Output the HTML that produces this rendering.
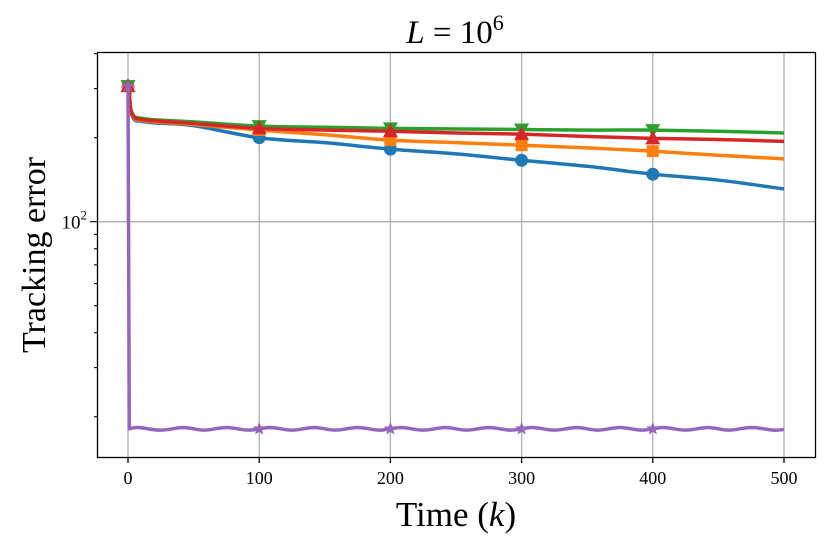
<!DOCTYPE html>
<html><head><meta charset="utf-8"><style>
body{margin:0;background:#fff}
svg text{font-family:"Liberation Serif","DejaVu Serif",serif;fill:#000}
</style></head><body>
<svg id="chart" width="830" height="549" viewBox="0 0 830 549" xmlns="http://www.w3.org/2000/svg">
<rect x="0" y="0" width="830" height="549" fill="#fff"/>
<g id="grid"></g>
<g id="series"></g>
<rect x="97.5" y="52.5" width="718" height="405" fill="none" stroke="#000" stroke-width="1.3"/>
<g id="ticks"></g>
<text x="455" y="43" font-size="33" text-anchor="middle"><tspan font-style="italic">L</tspan> = 10<tspan font-size="22" dy="-13">6</tspan></text>
<text x="456" y="526" font-size="35" text-anchor="middle">Time (<tspan font-style="italic">k</tspan>)</text>
<text transform="translate(45,255) rotate(-90)" font-size="34" text-anchor="middle">Tracking error</text>
</svg>
<script>
const xTicks=[0,100,200,300,400,500];
const ks=[0,1,2,5,10,20,50,100,150,200,250,300,350,400,450,500];
const blueVals=[306,300,250,232,229,226,221,200,192,182,175,166,158,148,141,131];
const orangeVals=[306,300,252,234,231,228,223,213,205,196,192,188,184,179,173,168];
const redVals=[306,300,254,236,233,230,225,216,213,211,208,206,202,199,197,194];
const greenVals=[306,300,256,238,235,232,228,220,218,216,215,214,213,213,211,208];
const purpleKs=[0,1,8,25,42,58,75,92,108,125,142,158,175,192,208,225,242,258,275,292,308,325,342,358,375,392,408,425,442,458,475,492,500];
const purpleVals=[306,18.1,18.3,17.9,18.3,17.9,18.3,17.9,18.3,17.9,18.3,17.9,18.3,17.9,18.3,17.9,18.3,17.9,18.3,17.9,18.3,17.9,18.3,17.9,18.3,17.9,18.3,17.9,18.3,17.9,18.3,17.9,18.0];
const markerKs=[0,100,200,300,400];
const NS="http://www.w3.org/2000/svg";
function X(k){return 128+k*1.312;}
function Y(v){return 221.7-279*(Math.log10(v)-2);}
function el(t,a,p){const e=document.createElementNS(NS,t);for(const k in a)e.setAttribute(k,a[k]);p.appendChild(e);return e;}
const grid=document.getElementById('grid'),ticks=document.getElementById('ticks'),ser=document.getElementById('series');
xTicks.forEach(t=>{
 const g=el('line',{x1:X(t),x2:X(t),y1:52,y2:457,stroke:'#b0b0b0','stroke-width':1.3},grid);
 
 
 const tk=el('line',{x1:X(t),x2:X(t),y1:457,y2:463,stroke:'#000','stroke-width':1.3},ticks);
 
 
 const tx=el('text',{x:X(t),y:484,'font-size':18,'text-anchor':'middle'},ticks);
 tx.textContent=t;
 
 
});
const gy=el('line',{x1:97,x2:815,y1:Y(100),y2:Y(100),stroke:'#b0b0b0','stroke-width':1.3},grid);


[20,30,40,50,60,70,80,90,100,200,300,400].forEach(v=>{
 const major=v===100;
 const t=el('line',{x1:major?90:94,x2:97,y1:Y(v),y2:Y(v),stroke:'#000','stroke-width':1.1},ticks);
 
 
});
const yl=el('text',{x:87,y:Y(100)+7,'font-size':19,'text-anchor':'end'},ticks);
yl.innerHTML='10<tspan font-size="13" dy="-9">2</tspan>';


function interp(kk,vv,k){for(let i=0;i<kk.length-1;i++){if(k>=kk[i]&&k<=kk[i+1]){const f=(k-kk[i])/(kk[i+1]-kk[i]);return Math.pow(10,Math.log10(vv[i])*(1-f)+Math.log10(vv[i+1])*f);}}return vv[vv.length-1];}
function smoothPath(kk,vv){
 const p=kk.map((k,i)=>[X(k),Y(vv[i])]);let d='M'+p[0][0]+','+p[0][1]+' L'+p[1][0]+','+p[1][1];
 for(let i=1;i<p.length-1;i++){const p0=p[i-1],p1=p[i],p2=p[i+1],p3=p[i+2]||p2;
  const s=i===1?0:1/6;
  d+=` C${p1[0]+(p2[0]-p0[0])*s},${p1[1]+(p2[1]-p0[1])*s} ${p2[0]-(p3[0]-p1[0])/6},${p2[1]-(p3[1]-p1[1])/6} ${p2[0]},${p2[1]}`;}
 return d;}
function marker(type,x,y,c,p){
 let m;
 if(type==='circle')m=el('circle',{cx:x,cy:y,r:6.5,fill:c},p);
 else if(type==='square')m=el('rect',{x:x-6,y:y-6,width:12,height:12,fill:c},p);
 else if(type==='tri-up')m=el('polygon',{points:`${x},${y-8} ${x-7.5},${y+6} ${x+7.5},${y+6}`,fill:c},p);
 else if(type==='tri-down')m=el('polygon',{points:`${x},${y+8} ${x-7.5},${y-6} ${x+7.5},${y-6}`,fill:c},p);
 else{let pts=[];for(let i=0;i<10;i++){const r=i%2?3:7,a=-Math.PI/2+i*Math.PI/5;pts.push((x+r*Math.cos(a))+','+(y+r*Math.sin(a)));}m=el('polygon',{points:pts.join(' '),fill:c},p);}
 return m;}
const defs=[['blue-series',ks,blueVals,'#1f77b4','circle'],['orange-series',ks,orangeVals,'#ff7f0e','square'],['green-series',ks,greenVals,'#2ca02c','tri-down'],['red-series',ks,redVals,'#d62728','tri-up'],['purple-series',purpleKs,purpleVals,'#9467bd','star']];
defs.forEach(([name,kk,vv,c,mt])=>{
 const g=el('g',{},ser);
 
 
 const l=el('path',{d:smoothPath(kk,vv),fill:'none',stroke:c,'stroke-width':3.5,'stroke-linejoin':'round'},g);
 
 
 markerKs.forEach(k=>{
  const v=k===0?vv[0]:interp(kk,vv,k);
  const m=marker(mt,X(k),Y(v),c,g);
  
  
 });
});
</script>
</body></html>
